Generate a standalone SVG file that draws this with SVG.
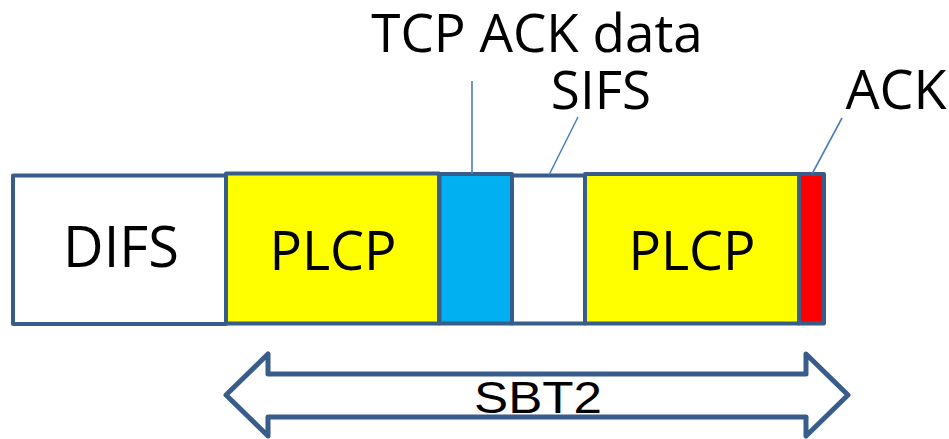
<svg xmlns="http://www.w3.org/2000/svg" width="949" height="439" viewBox="0 0 949 439">
  <style>
    .seg { stroke: #385D8A; stroke-width: 4; stroke-linejoin: round; }
    .lbl { font-family: "Open Sans", "Noto Sans", sans-serif; fill: #000; text-anchor: middle; }
    .lead { stroke: #4A7EBB; stroke-width: 1.6; fill: none; }
    .span { fill: #fff; stroke: #385D8A; stroke-width: 5; stroke-linejoin: round; }
  </style>
  <rect width="949" height="439" fill="#fff"/>

  <!-- frame timeline segments -->
  <g id="difs">
    <rect class="seg" x="13" y="175.5" width="213" height="148.5" fill="#fff"/>
    <text class="lbl" x="121" y="267" font-size="56">DIFS</text>
  </g>
  <g id="plcp1">
    <rect class="seg" x="226" y="173.5" width="213" height="150" fill="#FFFF00"/>
    <text class="lbl" x="333" y="270" font-size="54">PLCP</text>
  </g>
  <g id="tcp-ack-data">
    <rect class="seg" x="439.5" y="174" width="72.5" height="149.5" fill="#00B0F0"/>
  </g>
  <g id="sifs">
    <rect class="seg" x="512" y="175.5" width="73" height="148" fill="#fff"/>
  </g>
  <g id="plcp2">
    <rect class="seg" x="585" y="174" width="214" height="149.5" fill="#FFFF00"/>
    <text class="lbl" x="692" y="270" font-size="54">PLCP</text>
  </g>
  <g id="ack">
    <rect class="seg" x="799" y="174" width="25" height="149.5" fill="#FF0000"/>
  </g>

  <!-- callout labels -->
  <g id="label-tcp">
    <text class="lbl" x="537" y="52" font-size="53">TCP ACK data</text>
  </g>
  <g id="label-sifs">
    <text class="lbl" x="601" y="109" font-size="53">SIFS</text>
  </g>
  <g id="label-ack">
    <text class="lbl" x="896" y="109" font-size="54">ACK</text>
  </g>

  <!-- leader lines -->
  <g id="connectors">
    <line class="lead" x1="472" y1="81" x2="472" y2="174"/>
    <line class="lead" x1="578" y1="117" x2="549" y2="175"/>
    <line class="lead" x1="842" y1="118" x2="812" y2="174"/>
  </g>

  <!-- double-headed span arrow -->
  <g id="sbt2">
    <path class="span" d="M226,395 L268,354 L268,374 L806,374 L806,354 L848,395 L806,436 L806,417 L268,417 L268,436 Z"/>
    <text x="538" y="413" font-family="Liberation Sans, Arial, sans-serif" font-size="44" text-anchor="middle" textLength="128" lengthAdjust="spacingAndGlyphs">SBT2</text>
  </g>
</svg>
